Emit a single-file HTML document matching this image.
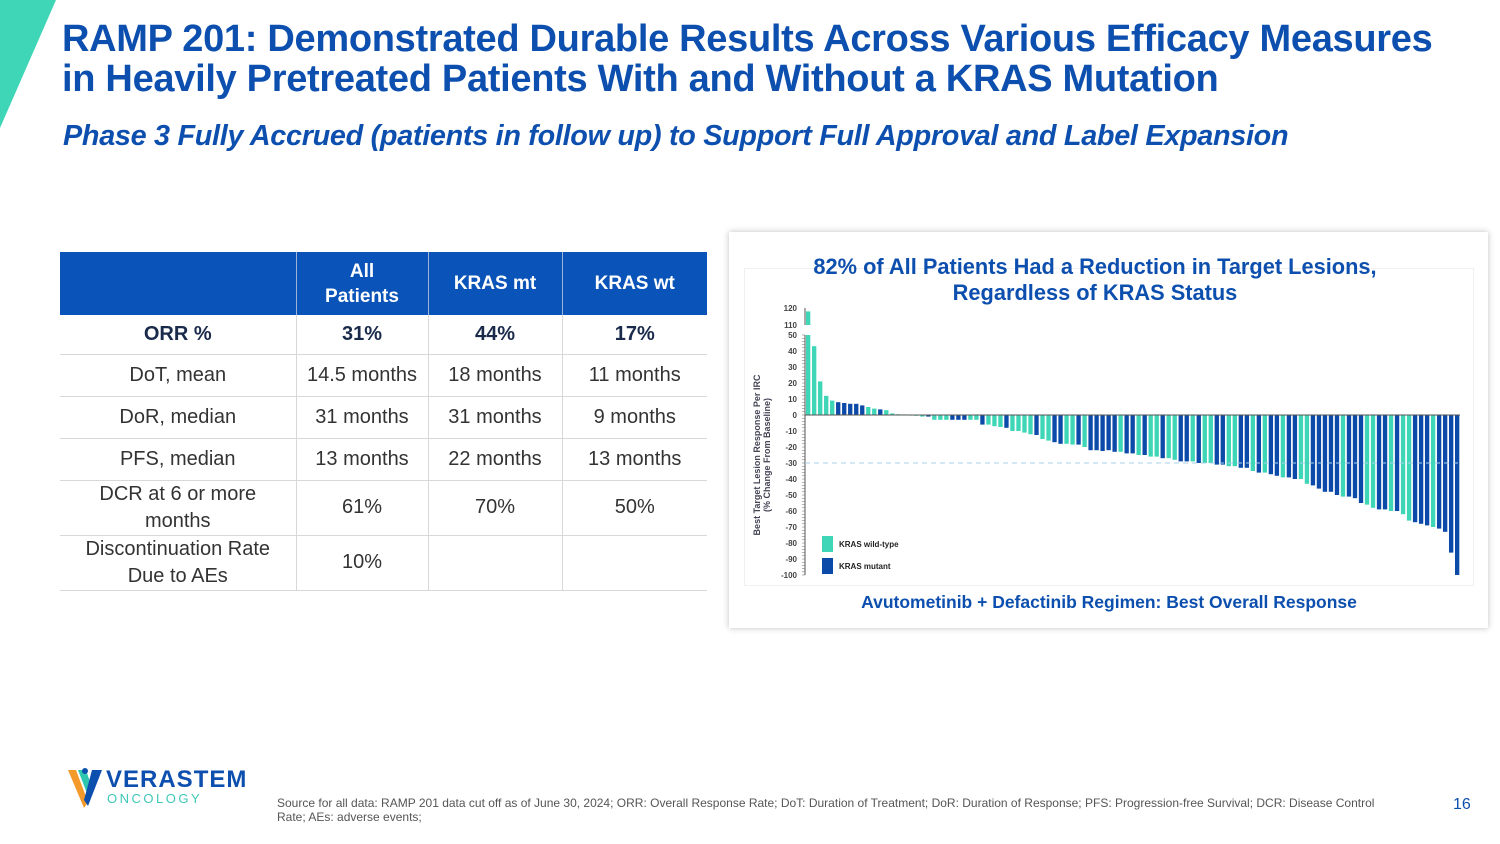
<!DOCTYPE html>
<html><head><meta charset="utf-8">
<style>
*{margin:0;padding:0;box-sizing:border-box}
body{width:1500px;height:844px;background:#fff;position:relative;overflow:hidden;font-family:"Liberation Sans",sans-serif}
.abs{position:absolute}
h1{position:absolute;left:62px;top:19px;font-size:38px;line-height:40px;color:#0d4fae;font-weight:bold;letter-spacing:-0.3px;white-space:nowrap}
h2{position:absolute;left:63px;top:120px;font-size:28.8px;color:#0d4fae;font-style:italic;font-weight:bold;letter-spacing:-0.3px;white-space:nowrap}
table{position:absolute;left:60px;top:252px;border-collapse:collapse;width:647px}
td,th{text-align:center;font-size:20px;color:#333;border-bottom:1.5px solid #d8d8d8;border-left:1.5px solid #d8d8d8;line-height:27px}
td:first-child,th:first-child{border-left:none}
th{background:#0a53b8;color:#fff;font-size:19px;height:63px;border-left:1px solid #9db3d8;border-bottom:none;line-height:25px}
tr.b td{font-weight:bold;color:#1a2a4a;font-size:20px}
</style></head><body>
<svg class="abs" style="left:0;top:0" width="60" height="130"><polygon points="0,0 56,0 0,128" fill="#3fd6b8"/></svg>
<h1>RAMP 201: Demonstrated Durable Results Across Various Efficacy Measures<br>in Heavily Pretreated Patients With and Without a KRAS Mutation</h1>
<h2>Phase 3 Fully Accrued (patients in follow up) to Support Full Approval and Label Expansion</h2>

<table>
<tr><th style="width:236px"></th><th style="width:132px">All<br>Patients</th><th style="width:134px">KRAS mt</th><th>KRAS wt</th></tr>
<tr class="b" style="height:39px"><td>ORR %</td><td>31%</td><td>44%</td><td>17%</td></tr>
<tr style="height:42px"><td>DoT, mean</td><td>14.5 months</td><td>18 months</td><td>11 months</td></tr>
<tr style="height:42px"><td>DoR, median</td><td>31 months</td><td>31 months</td><td>9 months</td></tr>
<tr style="height:42px"><td>PFS, median</td><td>13 months</td><td>22 months</td><td>13 months</td></tr>
<tr style="height:55px"><td>DCR at 6 or more<br>months</td><td>61%</td><td>70%</td><td>50%</td></tr>
<tr style="height:55px"><td>Discontinuation Rate<br>Due to AEs</td><td>10%</td><td></td><td></td></tr>
</table>

<div class="abs" style="left:729px;top:232px;width:759px;height:396px;background:#fff;box-shadow:0 0 6px rgba(0,0,0,0.25)"></div>
<div class="abs" style="left:744px;top:268px;width:730px;height:318px;border:1px solid #f0f0f0"></div>
<div class="abs" style="left:744px;top:254px;width:702px;text-align:center;font-size:21.8px;line-height:26px;font-weight:bold;color:#0d4fae;white-space:nowrap">82% of All Patients Had a Reduction in Target Lesions,<br>Regardless of KRAS Status</div>
<div class="abs" style="left:744px;top:592px;width:730px;text-align:center;font-size:17.5px;font-weight:bold;color:#0d4fae">Avutometinib + Defactinib Regimen: Best Overall Response</div>
<svg id="chart" class="abs" style="left:744px;top:295px" width="730" height="290"></svg>

<div class="abs" style="left:66px;top:764px">
<svg width="40" height="44" style="position:absolute;left:0;top:2px"><polygon points="2,4 10,4 22,36 18,42" fill="#f39a2a"/><polygon points="12,4 20,4 26,22 22,30" fill="#2fc6b0"/><polygon points="26,4 36,4 22,40 18,34" fill="#0d4fae"/><circle cx="19" cy="5" r="3" fill="#0d4fae"/></svg>
<div style="position:absolute;left:40px;top:2px;font-size:24px;font-weight:bold;color:#0d4fae;letter-spacing:1px">VERASTEM</div>
<div style="position:absolute;left:41px;top:27px;font-size:13px;color:#3fc8b8;letter-spacing:2.5px">ONCOLOGY</div>
</div>
<div class="abs" style="left:277px;top:796px;width:1120px;font-size:12px;line-height:14px;color:#555">Source for all data: RAMP 201 data cut off as of June 30, 2024; ORR: Overall Response Rate; DoT: Duration of Treatment; DoR: Duration of Response; PFS: Progression-free Survival; DCR: Disease Control Rate; AEs: adverse events;</div>
<div class="abs" style="left:1453px;top:796px;font-size:16px;color:#0d4fae">16</div>

<script>
const values=[118,43,21,12,9,8,7.5,7,7,6,5,4,3.5,3,1,0.5,0.3,-0.3,-0.5,-1,-1,-3,-3,-3,-3,-3,-3,-3,-3,-6,-6,-7,-7.5,-8,-10,-10,-11,-12,-12.5,-15,-16,-17,-18,-18,-18.5,-18.5,-20,-22,-22,-22.5,
-22,-23,-23,-24,-24,-25,-25,-26,-26,-27,-27,-28,-29,-29,-29,-30,-30,-30,-31,-31,-32,-32,-33,-33,-35,-36,-36,-37,-38,-39,-39,-40,-40,-43,-44,-46,-48,-48,-50,-51,-51,-52,-55,-56,-58,-59,-59,-60,-60,-62,-66,-67,-68,-69,-70,-71,-73,-86,-100];
const kras="TTTTTBBBBBTTBTTTTTTTBTTTBBBTTBTTTBTTTTBTTBBTTBTBBB"+"BBTBBTBTTBTTBBTBTTBBTTBBTBTBBTBBTTBBBBBTBBBTTBBTBTTBBBTBBBB";
const yTicks=[50,40,30,20,10,0,-10,-20,-30,-40,-50,-60,-70,-80,-90,-100];
const breakTicks=[120,110];
const svg=document.getElementById('chart');const NS='http://www.w3.org/2000/svg';
const x0=61,x1=716,zeroY=120,ppu=1.6;
const y=v=>zeroY-v*ppu;
const yb=v=>13+(120-v)*1.7;
function el(t,a){const e=document.createElementNS(NS,t);for(const k in a)e.setAttribute(k,a[k]);svg.appendChild(e);return e;}
yTicks.forEach(t=>{const tx=el('text',{x:x0-8,y:y(t)+3,'font-size':8,'text-anchor':'end',fill:'#444','font-weight':'bold'});tx.textContent=t;

});
breakTicks.forEach(t=>{const tx=el('text',{x:x0-8,y:yb(t)+3,'font-size':8,'text-anchor':'end',fill:'#444','font-weight':'bold'});tx.textContent=t;

});
for(let v=50;v>=-100;v-=2){el('line',{x1:x0-3,x2:x0,y1:y(v),y2:y(v),stroke:'#666','stroke-width':0.5});}
el('line',{x1:x0,x2:x0,y1:y(50),y2:y(-100),stroke:'#555','stroke-width':1});
el('line',{x1:x0,x2:x0,y1:yb(120),y2:yb(110),stroke:'#555','stroke-width':1});
const n=values.length,step=(x1-x0)/n,bw=step*0.72;
values.forEach((v,i)=>{const c=kras[i]==='T'?'#3fd6b8':'#0b4aa8';const bx=x0+i*step+1;
let r;
if(v>50){r=el('rect',{x:bx,y:y(50),width:bw,height:zeroY-y(50),fill:c});
const r2=el('rect',{x:bx,y:yb(v),width:bw,height:yb(110)-yb(v),fill:c});

}
else{const h=Math.max(Math.abs(v*ppu),0.6);r=el('rect',{x:bx,y:v>=0?zeroY-h:zeroY,width:bw,height:h,fill:c});}

});
el('line',{x1:x0,x2:x1,y1:zeroY,y2:zeroY,stroke:'#555','stroke-width':1});
el('line',{x1:x0,x2:x1,y1:y(-30),y2:y(-30),stroke:'#a8d0e8','stroke-width':1,'stroke-dasharray':'5,4'});
const yt=el('text',{x:0,y:0,'font-size':9,'font-weight':'bold',fill:'#445','text-anchor':'middle',transform:`translate(16,${y(-25)}) rotate(-90)`});
yt.innerHTML='<tspan x="0" dy="0">Best Target Lesion Response Per IRC</tspan><tspan x="0" dy="10">(% Change From Baseline)</tspan>';


[['#3fd6b8','KRAS wild-type',241],['#0b4aa8','KRAS mutant',263]].forEach(([c,l,yy])=>{
const r=el('rect',{x:78,y:yy,width:11,height:16,fill:c});


const t=el('text',{x:95,y:yy+11,'font-size':8,fill:'#222','font-weight':'bold'});t.textContent=l;

});
</script>
</body></html>
